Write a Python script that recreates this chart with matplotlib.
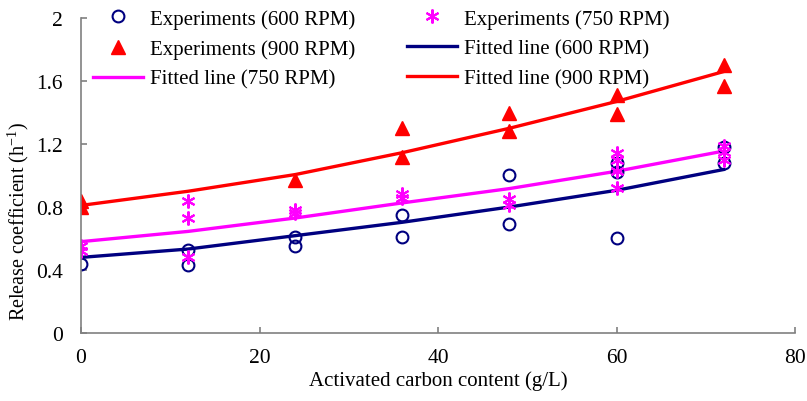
import matplotlib
matplotlib.use('Agg')
import matplotlib.pyplot as plt

# Datos
x_600 = [0, 12, 12, 24, 24, 36, 36, 48, 48, 60, 60, 60, 72, 72]
y_600 = [0.44, 0.53, 0.43, 0.61, 0.55, 0.75, 0.61, 1.00, 0.69, 1.08, 1.02, 0.60, 1.18, 1.08]

x_750 = [0, 0, 12, 12, 12, 24, 24, 36, 36, 48, 48, 60, 60, 60, 60, 72, 72, 72]
y_750 = [0.55, 0.52, 0.84, 0.73, 0.48, 0.78, 0.76, 0.88, 0.86, 0.85, 0.81,
         1.14, 1.10, 1.03, 0.92, 1.19, 1.15, 1.10]

x_900 = [0, 0, 24, 36, 36, 48, 48, 60, 60, 72, 72]
y_900 = [0.84, 0.80, 0.97, 1.30, 1.12, 1.40, 1.28, 1.51, 1.39, 1.70, 1.57]

# Curvas ajustadas
x_fit = [0, 12, 24, 36, 48, 60, 72]
fit_600 = [0.48, 0.533, 0.618, 0.703, 0.80, 0.906, 1.038]
fit_750 = [0.58, 0.645, 0.73, 0.826, 0.917, 1.027, 1.155]
fit_900 = [0.81, 0.90, 1.006, 1.145, 1.30, 1.47, 1.66]

x_ticks = [0, 20, 40, 60, 80]
y_ticks = [0, 0.4, 0.8, 1.2, 1.6, 2]

plt.rcParams['font.family'] = 'Liberation Serif'
plt.rcParams['mathtext.fontset'] = 'custom'
plt.rcParams['mathtext.rm'] = 'Liberation Serif'

fig = plt.figure(figsize=(8.07, 4.02), dpi=100)
ax = fig.add_axes([0.1004, 0.1692, 0.8848, 0.7835])

navy = '#000080'
mag = '#FF00FF'
red = '#FF0000'

l1, = ax.plot(x_fit, fit_600, color=navy, lw=2.4, label='Fitted line (600 RPM)')
l2, = ax.plot(x_fit, fit_750, color=mag, lw=2.4, label='Fitted line (750 RPM)')
l3, = ax.plot(x_fit, fit_900, color=red, lw=2.4, label='Fitted line (900 RPM)')

s1, = ax.plot(x_600, y_600, ls='none', marker='o', ms=8.5, mfc='none', mec=navy, mew=1.5,
              label='Experiments (600 RPM)')
s2, = ax.plot(x_750, y_750, ls='none', marker=(6, 2, 0), ms=10, mec=mag, mew=1.5,
              label='Experiments (750 RPM)')
s3, = ax.plot(x_900, y_900, ls='none', marker='^', ms=10.5, color=red,
              label='Experiments (900 RPM)')

ax.set_xlim(0, 80)
ax.set_ylim(0, 2)
ax.set_xticks(x_ticks)
ax.set_yticks(y_ticks)
ax.set_yticklabels([f'{v:g}' for v in y_ticks])

for s in ['top', 'right']:
    ax.spines[s].set_visible(False)
for s in ['left', 'bottom']:
    ax.spines[s].set_color('#808080')
    ax.spines[s].set_linewidth(1.2)
ax.tick_params(direction='in', length=4, width=1.2, color='#808080', labelsize=15.5)
ax.tick_params(axis='y', pad=13)
ax.tick_params(axis='x', pad=11)

ax.set_xlabel('Activated carbon content (g/L)', fontsize=15, labelpad=2)
ax.set_ylabel(r'Release coefficient (h$^{\mathregular{-1}}$)', fontsize=14.5)
ax.yaxis.set_label_coords(-0.07, 0.357)

handles = [s1, s3, l2, s2, l1, l3]
fig.legend(handles, [h.get_label() for h in handles], ncol=2, frameon=False,
           loc='upper left', bbox_to_anchor=(93 / 807, 1 - 10 / 402),
           borderpad=0, borderaxespad=0, fontsize=15, handlelength=2.4,
           handletextpad=0.34, columnspacing=2.5, labelspacing=0.5)

fig.savefig('out.png', dpi=100)
